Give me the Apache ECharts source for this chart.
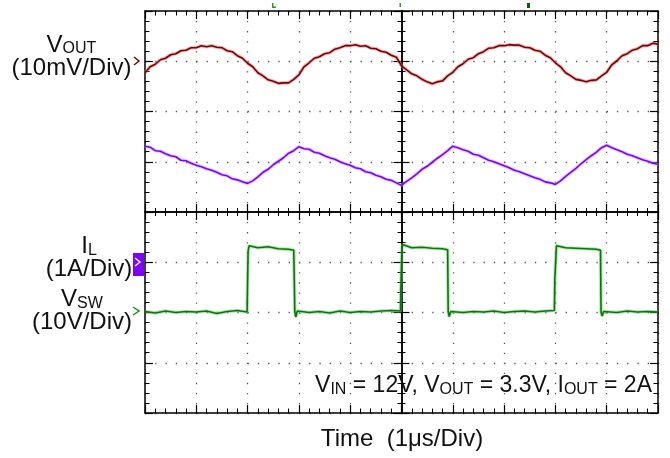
<!DOCTYPE html>
<html><head><meta charset="utf-8">
<script src="https://cdn.jsdelivr.net/npm/echarts@6/dist/echarts.min.js"></script>
<style>html,body{margin:0;padding:0;background:#fff}#c{width:670px;height:458px}</style>
</head><body><div id="c"></div>
<script>
// ---- data (time in µs, read from the scope capture) ----
const timeUs = [0,0.1,0.2,0.3,0.4,0.5,0.6,0.7,0.8,0.9,1,1.1,1.2,1.3,1.4,1.5,1.6,1.7,1.8,1.9,2,2.1,2.2,2.3,2.4,2.5,2.6,2.7,2.8,2.9,3,3.1,3.2,3.3,3.4,3.5,3.6,3.7,3.8,3.9,4,4.1,4.2,4.3,4.4,4.5,4.6,4.7,4.8,4.9,5,5.1,5.2,5.3,5.4,5.5,5.6,5.7,5.8,5.9,6,6.1,6.2,6.3,6.4,6.5,6.6,6.7,6.8,6.9,7,7.1,7.2,7.3,7.4,7.5,7.6,7.7,7.8,7.9,8,8.1,8.2,8.3,8.4,8.5,8.6,8.7,8.8,8.9,9,9.1,9.2,9.3,9.4,9.5,9.6,9.7,9.8,9.9,10];
// Output voltage ripple (mV, AC)
const voutMv = [-2.3,-1.1,-0.6,0.3,0.6,1.3,1.5,2.1,2.2,2.7,2.7,3.1,2.9,3.1,2.8,2.7,2.1,1.9,1.1,0.6,
  -0.4,-1.1,-2.3,-2.9,-3.7,-4.0,-4.4,-4.3,-4.3,-3.6,-2.7,-1.1,-0.3,0.6,0.9,1.5,1.7,2.4,2.7,3.1,
  3.1,3.3,3.0,3.1,2.6,2.5,2.0,1.8,1.2,0.8,-0.9,-1.7,-2.5,-2.9,-3.6,-4.1,-4.5,-4.1,-3.9,-2.9,
  -2.2,-1.1,-0.5,0.4,0.7,1.5,1.9,2.6,2.7,3.1,3.1,3.3,3.2,3.2,2.8,2.7,2.2,2.0,1.2,0.7,
  -0.3,-1.1,-2.3,-2.9,-3.6,-3.8,-4.1,-3.8,-3.7,-2.9,-2.2,-0.7,0.1,1.1,1.5,2.2,2.5,3.1,3.1,3.6,3.4];
// Inductor current (A)
const ilAmp = [2.31,2.29,2.22,2.21,2.16,2.12,2.10,2.03,2.02,1.97,1.93,
  1.90,1.86,1.83,1.79,1.74,1.72,1.66,1.64,1.60,1.57,
  1.62,1.70,1.79,1.85,1.94,2.01,2.08,2.17,2.22,2.30,
  2.26,2.25,2.19,2.17,2.12,2.08,2.05,2.00,1.96,1.93,
  1.88,1.86,1.80,1.78,1.73,1.70,1.65,1.63,1.58,1.53,
  1.61,1.68,1.76,1.85,1.91,1.99,2.07,2.14,2.22,2.31,
  2.28,2.24,2.21,2.15,2.13,2.08,2.03,2.00,1.96,1.92,
  1.88,1.83,1.80,1.76,1.72,1.68,1.65,1.60,1.58,1.55,
  1.62,1.71,1.79,1.87,1.96,2.04,2.12,2.19,2.28,2.33,
  2.28,2.24,2.20,2.15,2.12,2.08,2.04,2.01,1.97,1.95];
// Switch node voltage (V)
const vswTime = [0,0.2,0.4,0.6,0.8,1.0,1.2,1.4,1.6,1.8,1.99,
  2.01,2.03,2.2,2.4,2.6,2.8,2.9,
  2.92,2.94,2.97,3.2,3.4,3.6,3.8,4.0,4.2,4.4,4.6,4.8,4.98,
  4.99,5.01,5.03,5.2,5.4,5.6,5.8,5.9,
  5.91,5.93,5.96,6.2,6.4,6.6,6.8,7.0,7.2,7.4,7.6,7.8,7.98,
  7.99,8.00,8.02,8.2,8.4,8.6,8.8,8.88,
  8.89,8.91,8.94,9.2,9.4,9.6,9.8,10.0];
const vswVolt = [0.2,-0.1,0.3,0.0,0.2,0.1,0.3,-0.2,0.2,0.4,0.1,
  12.2,13.3,12.9,13.1,12.7,12.6,12.4,
  0.2,-0.9,0.3,0.0,0.2,-0.1,0.3,0.0,0.2,0.1,0.3,0.4,0.3,
  6.0,13.0,13.5,12.9,13.0,12.8,12.7,12.5,
  0.2,-0.8,0.2,0.0,0.2,0.1,0.3,0.0,0.2,0.3,0.1,0.3,0.4,
  6.8,7.0,13.3,12.9,12.8,12.7,12.6,12.4,
  0.1,-0.7,0.2,0.0,0.3,0.1,0.2,0.1];
// channel scale (units per division) and ground marker position (division)
const voutScale = 10, voutOffset = 7;
const ilScale = 1, ilOffset = 3;
const vswScale = 10, vswOffset = 2;

const FONT = '"Liberation Sans", Arial, sans-serif';
const chart = echarts.init(document.getElementById('c'), null, {renderer: 'canvas', width: 670, height: 458});

const toDiv = (t, v, s, o) => t.map((x, i) => [x, o + v[i] / s]);
const voutData = toDiv(timeUs, voutMv, voutScale, voutOffset);
const ilData = toDiv(timeUs, ilAmp, ilScale, ilOffset);
const vswData = toDiv(vswTime, vswVolt, vswScale, vswOffset);

function ax(dim, pos, opts) {
  const isX = dim === 'x';
  const base = {
    type: 'value', min: 0, max: isX ? 10 : 8, interval: 1, position: pos,
    offset: opts.offset || 0,
    axisLabel: {show: false},
    axisLine: {show: true, onZero: false, lineStyle: {color: '#000', width: opts.lw || 1.5}},
    axisTick: {show: true, inside: opts.inside, length: opts.major || 8, lineStyle: {color: '#000', width: 1.2}},
    minorTick: {show: true, splitNumber: 5, length: opts.minor || 4.5, lineStyle: {color: '#000', width: 1}},
    splitLine: {show: false}
  };
  if (opts.grid) {
    base.splitLine = {show: true, lineStyle: {color: '#555', width: 1.3, type: isX ? [1.3, 8.75] : [1.3, 8.96]}};
  }
  return base;
}

function trace(name, data, core, halo) {
  return [
    {name: name + '-halo', type: 'line', data, showSymbol: false, silent: true, animation: false,
     lineStyle: {color: halo, width: 3.6, opacity: 0.5}, z: 3},
    {name, type: 'line', data, showSymbol: false, silent: true, animation: false,
     lineStyle: {color: core, width: 1.6}, z: 4}
  ];
}

const sub = (fs) => ({fontSize: fs, fontFamily: FONT, lineHeight: fs, verticalAlign: 'bottom', fill: '#111'});
function label(x, y, text, align, fs, subFs, subLH) {
  const s = sub(subFs || 16);
  if (subLH) s.lineHeight = subLH;
  return {type: 'text', x, y, z: 100, style: {
    text, align: align, verticalAlign: 'middle', fill: '#111',
    font: fs + 'px ' + FONT,
    rich: {m: sub(fs), s: s}
  }};
}

chart.setOption({
  backgroundColor: '#fff',
  animation: false,
  grid: {left: 145, top: 11, right: 12, bottom: 45},
  xAxis: [
    ax('x', 'bottom', {inside: true, grid: true}),
    ax('x', 'top', {inside: true}),
    ax('x', 'bottom', {inside: false, offset: -201, major: 8, minor: 4}),
    ax('x', 'bottom', {inside: true, offset: -201, major: 8, minor: 4})
  ],
  yAxis: [
    ax('y', 'left', {inside: true, grid: true}),
    ax('y', 'right', {inside: true}),
    ax('y', 'left', {inside: false, offset: -256.5, major: 8, minor: 4}),
    ax('y', 'left', {inside: true, offset: -256.5, major: 8, minor: 4})
  ],
  series: [
    ...trace('VOUT', voutData, '#800000', '#c97a7a'),
    ...trace('IL', ilData, '#8000ff', '#c29aff'),
    ...trace('VSW', vswData, '#007d00', '#7cc47c')
  ],
  graphic: [
    label(71.5, 45, '{m|V}{s|OUT}', 'center', 24),
    label(71.5, 68, '{m|(10mV/Div)}', 'center', 24),
    label(89, 246.7, '{m|I}{s|L}', 'center', 24, 16, 10),
    label(89, 269.7, '{m|(1A/Div)}', 'center', 24),
    label(82, 299.7, '{m|V}{s|SW}', 'center', 24),
    label(82, 322.7, '{m|(10V/Div)}', 'center', 24),
    label(652, 386, '{m|V}{s|IN}{m| = 12V, V}{s|OUT}{m| = 3.3V, I}{s|OUT}{m| = 2A}', 'right', 23),
    label(402, 439, '{m|Time  (1\u03bcs/Div)}', 'center', 24),
    {type: 'polyline', z: 100, shape: {points: [[134, 57], [139, 61], [134, 65]]}, style: {stroke: '#800000', lineWidth: 1.5, fill: null}},
    {type: 'rect', z: 100, shape: {x: 133, y: 253, width: 11, height: 23}, style: {fill: '#8000ff'}},
    {type: 'polyline', z: 101, shape: {points: [[135, 258], [140, 262], [135, 266]]}, style: {stroke: '#fff', lineWidth: 1.5, fill: null}},
    {type: 'polyline', z: 100, shape: {points: [[133, 307], [139, 311], [133, 315]]}, style: {stroke: '#1a8a1a', lineWidth: 1.5, fill: null}},
    {type: 'rect', z: 100, shape: {x: 272, y: 3, width: 1.5, height: 5}, style: {fill: '#2a9a2a'}},
    {type: 'rect', z: 100, shape: {x: 272, y: 6.5, width: 4, height: 1.5}, style: {fill: '#2a9a2a'}},
    {type: 'rect', z: 100, shape: {x: 399.5, y: 3, width: 1.5, height: 4}, style: {fill: '#2a9a2a'}},
    {type: 'rect', z: 100, shape: {x: 527, y: 3, width: 3, height: 5}, style: {fill: '#0a5a0a'}}
  ]
});
</script></body></html>
